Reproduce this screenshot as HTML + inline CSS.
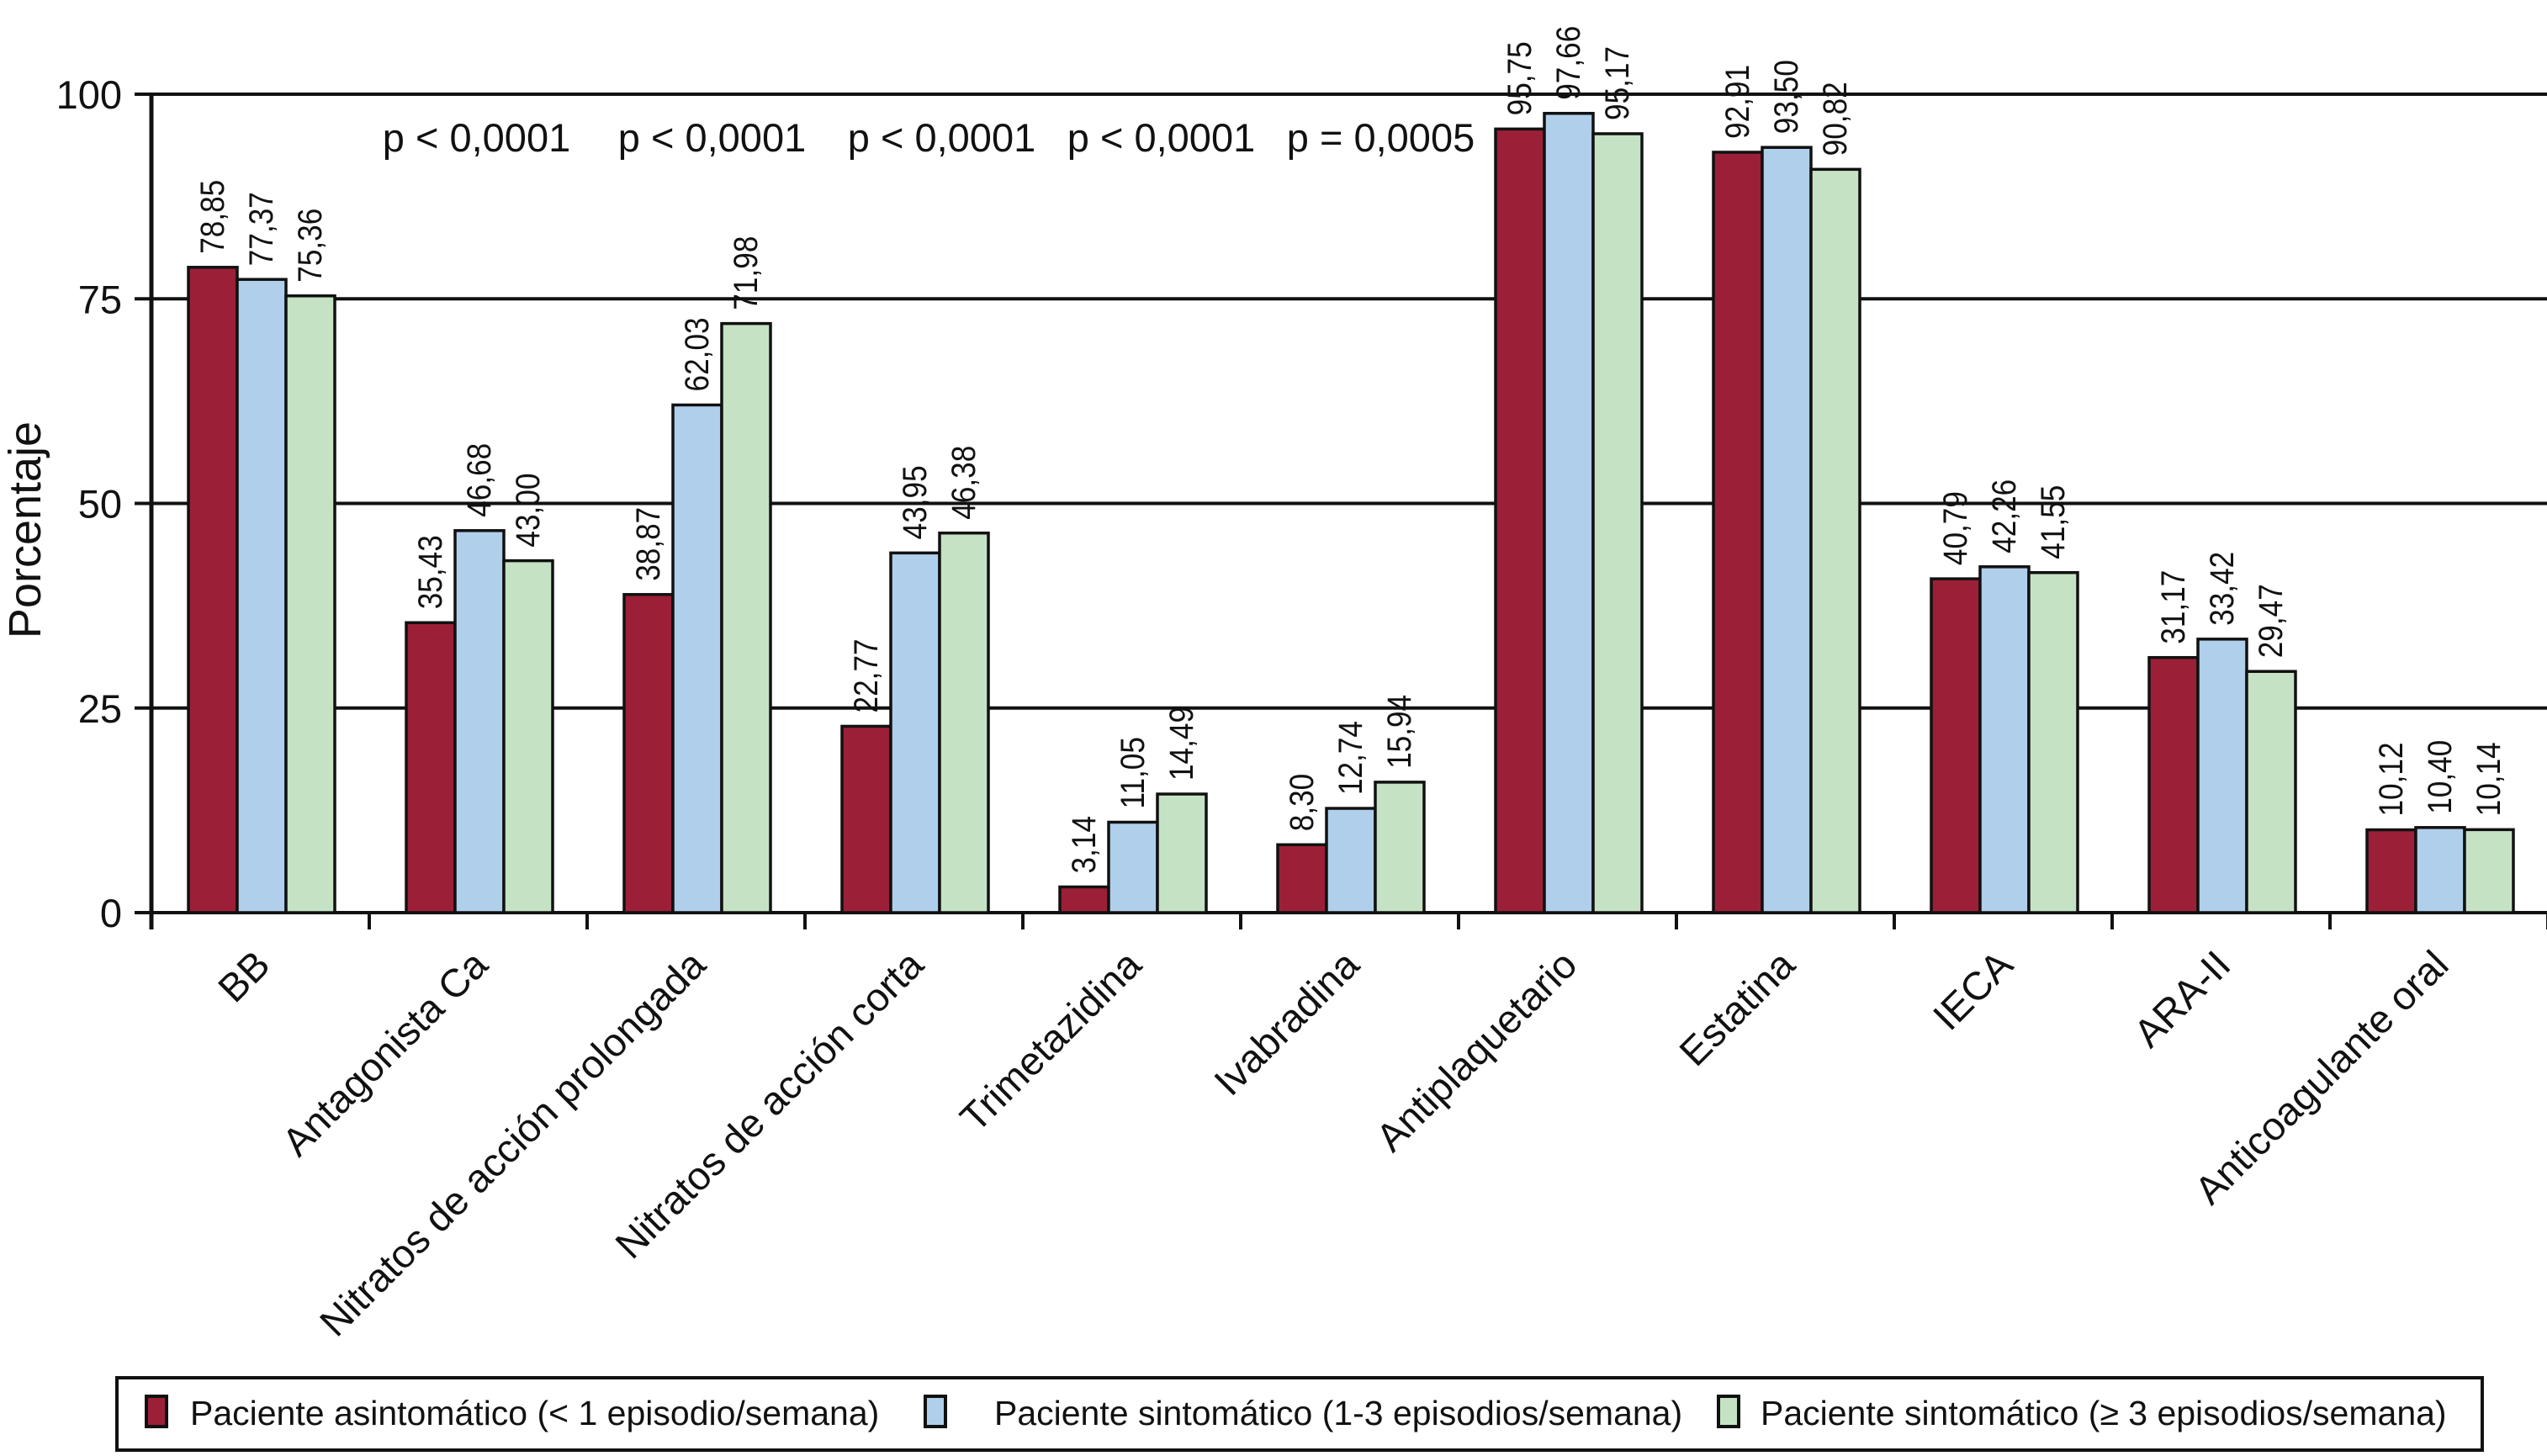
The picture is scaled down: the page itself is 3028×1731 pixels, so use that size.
<!DOCTYPE html>
<html><head><meta charset="utf-8"><style>
html,body{margin:0;padding:0;background:#fff;}
svg{display:block;font-family:"Liberation Sans",sans-serif;}
</style></head><body>
<svg id="chart" width="3028" height="1731" viewBox="0 0 3028 1731" xmlns="http://www.w3.org/2000/svg">
<g id="grid"></g><g id="bars"></g><g id="labels"></g>
<text transform="translate(48,630) rotate(-90)" text-anchor="middle" font-size="54" fill="#111">Porcentaje</text>
<g>
<rect x="139" y="1638" width="2812" height="86" fill="#fff" stroke="#111" stroke-width="4"/>
<rect x="174" y="1660" width="24" height="36" fill="#9b2037" stroke="#111" stroke-width="4"/>
<text x="226" y="1694" font-size="41" fill="#111">Paciente asintomático (&lt; 1 episodio/semana)</text>
<rect x="1100" y="1660" width="24" height="36" fill="#b0cfeb" stroke="#111" stroke-width="4"/>
<text x="1182" y="1694" font-size="41" fill="#111">Paciente sintomático (1-3 episodios/semana)</text>
<rect x="2043" y="1660" width="24" height="36" fill="#c5e3c4" stroke="#111" stroke-width="4"/>
<text x="2093" y="1694" font-size="41" fill="#111">Paciente sintomático (≥ 3 episodios/semana)</text>
</g>
</svg>
<script>
const categories=["BB","Antagonista Ca","Nitratos de acción prolongada","Nitratos de acción corta","Trimetazidina","Ivabradina","Antiplaquetario","Estatina","IECA","ARA-II","Anticoagulante oral"];
const seriesA=[78.85,35.43,38.87,22.77,3.14,8.30,95.75,92.91,40.79,31.17,10.12];
const seriesB=[77.37,46.68,62.03,43.95,11.05,12.74,97.66,93.50,42.26,33.42,10.40];
const seriesC=[75.36,43.00,71.98,46.38,14.49,15.94,95.17,90.82,41.55,29.47,10.14];
const yTicks=[0,25,50,75,100];
const pValues=["","p < 0,0001","p < 0,0001","p < 0,0001","p < 0,0001","p = 0,0005","","","","",""];
const NS="http://www.w3.org/2000/svg";
const X0=180,GW=259,Y0=1085,YT=112;
const pShift=[0,-2,19,33,35,37,0,0,0,0,0];
function y(v){return Y0-(v/100)*(Y0-YT);}
function gx(i){return X0+i*GW;}
function mk(tag,attrs,parent,txt){const e=document.createElementNS(NS,tag);for(const k in attrs)e.setAttribute(k,attrs[k]);if(txt!==undefined)e.textContent=txt;parent.appendChild(e);return e;}
const grid=document.getElementById('grid'),bars=document.getElementById('bars'),labels=document.getElementById('labels');
yTicks.forEach(t=>{
 const l=mk('line',{x1:160,x2:3028,y1:y(t),y2:y(t),stroke:'#111','stroke-width':4},grid);
 
 
 const tx=mk('text',{x:145,y:y(t)+17,'text-anchor':'end','font-size':47,fill:'#111'},labels,String(t));
 
 
});
const ax=mk('line',{x1:X0,x2:X0,y1:YT-2,y2:Y0+20,stroke:'#111','stroke-width':5},grid);


for(let i=1;i<=categories.length;i++){
 const tk=mk('line',{x1:gx(i),x2:gx(i),y1:Y0,y2:Y0+20,stroke:'#111','stroke-width':4},grid);
 
 
}
const series=[seriesA,seriesB,seriesC],colors=['#9b2037','#b0cfeb','#c5e3c4'],sn=['a','b','c'];
const BW=58,OFF=44;
categories.forEach((c,i)=>{
 series.forEach((s,k)=>{
  const v=s[i],bx=gx(i)+OFF+k*BW;
  const r=mk('rect',{x:bx,y:y(v),width:BW,height:Y0-y(v),fill:colors[k],stroke:'#111','stroke-width':3.5},bars);
  
  
  const lx=bx+BW/2+13,ly=y(v)-16;
  const t=mk('text',{transform:`translate(${lx},${ly}) rotate(-90) scale(0.88,1)`,'font-size':40,fill:'#111'},labels,v.toFixed(2).replace('.',','));
  
  
 });
 const cx=gx(i)+GW/2+14;
 const xl=mk('text',{transform:`translate(${cx},1150) rotate(-45)`,'text-anchor':'end','font-size':47,fill:'#111'},labels,c);
 
 
 if(pValues[i]){
  const p=mk('text',{x:gx(i)+GW/2+pShift[i],y:180,'text-anchor':'middle','font-size':47,fill:'#111'},labels,pValues[i]);
  
  
 }
});
</script>
</body></html>
